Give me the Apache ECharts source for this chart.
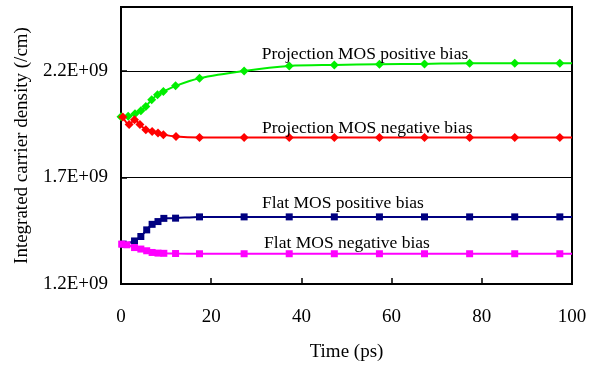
<!DOCTYPE html>
<html><head><meta charset="utf-8">
<script src="https://cdn.jsdelivr.net/npm/echarts@6/dist/echarts.min.js"></script>
<style>html,body{margin:0;padding:0;background:#fff}#c{width:595px;height:367px}</style>
</head><body><div id="c"></div>
<script>
// Data (values in units of 1E+09 /cm)
var projPosT = [0, 1.6, 3.1, 4.4, 5.5, 6.8, 8.1, 9.4, 12.1, 17.4, 27.3, 37.3, 47.3, 57.3, 67.3, 77.3, 87.3, 97.3];
var projPosV = [1.985, 1.987, 1.999, 2.013, 2.033, 2.065, 2.088, 2.103, 2.130, 2.166, 2.200, 2.223, 2.228, 2.231, 2.233, 2.236, 2.236, 2.236];
var projNegT = [0.4, 1.8, 3.0, 4.2, 5.5, 6.9, 8.2, 9.4, 12.2, 17.4, 27.3, 37.3, 47.3, 57.3, 67.3, 77.3, 87.3, 97.3];
var projNegV = [1.984, 1.948, 1.971, 1.948, 1.924, 1.916, 1.909, 1.901, 1.892, 1.888, 1.888, 1.888, 1.887, 1.887, 1.887, 1.887, 1.887, 1.887];
var flatPosT = [0.5, 3.0, 4.4, 5.7, 6.9, 8.2, 9.5, 12.1, 17.4, 27.3, 37.3, 47.3, 57.3, 67.3, 77.3, 87.3, 97.3];
var flatPosV = [1.387, 1.402, 1.423, 1.454, 1.480, 1.493, 1.508, 1.509, 1.515, 1.515, 1.515, 1.515, 1.515, 1.515, 1.515, 1.515, 1.515];
var flatNegT = [0.15, 1.3, 3.0, 4.4, 5.7, 6.9, 8.2, 9.5, 12.1, 17.4, 27.3, 37.3, 47.3, 57.3, 67.3, 77.3, 87.3, 97.3];
var flatNegV = [1.387, 1.384, 1.371, 1.364, 1.356, 1.348, 1.345, 1.344, 1.343, 1.342, 1.342, 1.342, 1.342, 1.342, 1.342, 1.342, 1.342, 1.342];
var endT = 100;
var seriesNames = ['Projection MOS positive bias', 'Projection MOS negative bias', 'Flat MOS positive bias', 'Flat MOS negative bias'];
var labelPos = [[54.1, 2.279], [54.6, 1.929], [49.2, 1.579], [50.1, 1.392]];
var xTicks = [0, 20, 40, 60, 80, 100];
var yTicks = [1.2, 1.7, 2.2];

var font = 'Liberation Serif, Times New Roman, serif';
function build(t, v) {
  var d = t.map(function (x, i) { return [x, v[i] * 1e9]; });
  d.push({ value: [endT, v[v.length - 1] * 1e9], symbol: 'none' });
  return d;
}
function mk(i, t, v, color, symbol, size) {
  return {
    name: seriesNames[i], type: 'line', data: build(t, v), smooth: 0.3,
    symbol: symbol, symbolSize: size,
    lineStyle: { color: color, width: 2 }, itemStyle: { color: color },
    z: 3 + i,
    markPoint: {
      symbol: 'circle', symbolSize: 0, silent: true,
      label: { show: true, formatter: seriesNames[i], color: '#000', fontFamily: font, fontSize: 17.5, position: 'inside', align: 'center', verticalAlign: 'middle' },
      data: [{ coord: [labelPos[i][0], labelPos[i][1] * 1e9] }]
    }
  };
}
var chart = echarts.init(document.getElementById('c'));
chart.setOption({
  animation: false,
  backgroundColor: '#fff',
  grid: { left: 121, right: 23, top: 7, bottom: 82, show: true, borderColor: '#000', borderWidth: 2, backgroundColor: 'transparent' },
  xAxis: {
    type: 'value', min: xTicks[0], max: xTicks[xTicks.length - 1], interval: 20,
    name: 'Time (ps)', nameLocation: 'middle', nameGap: 59,
    nameTextStyle: { fontFamily: font, fontSize: 19, color: '#000' },
    axisLine: { lineStyle: { color: '#000', width: 2 } },
    axisTick: { inside: true, length: 6, lineStyle: { color: '#000', width: 1.5 } },
    axisLabel: { fontFamily: font, fontSize: 19, color: '#000', margin: 24 },
    splitLine: { show: false }
  },
  yAxis: {
    type: 'value', min: yTicks[0] * 1e9, max: 2.5e9, interval: 0.5e9,
    name: 'Integrated carrier density (/cm)', nameLocation: 'middle', nameGap: 89,
    nameTextStyle: { fontFamily: font, fontSize: 19, color: '#000' },
    axisLine: { lineStyle: { color: '#000', width: 2 } },
    axisTick: { inside: true, length: 6, lineStyle: { color: '#000', width: 1.5 } },
    axisLabel: {
      fontFamily: font, fontSize: 19, color: '#000', margin: 13, showMaxLabel: false,
      formatter: function (v) { return (v / 1e9).toFixed(1) + 'E+09'; }
    },
    splitLine: { show: true, lineStyle: { color: '#000', width: 1.2 } }
  },
  series: [
    mk(0, projPosT, projPosV, '#00ee00', 'diamond', 9),
    mk(1, projNegT, projNegV, '#ff0000', 'diamond', 9),
    mk(2, flatPosT, flatPosV, '#000080', 'rect', 7),
    mk(3, flatNegT, flatNegV, '#ff00ff', 'rect', 7)
  ]
});
</script></body></html>
